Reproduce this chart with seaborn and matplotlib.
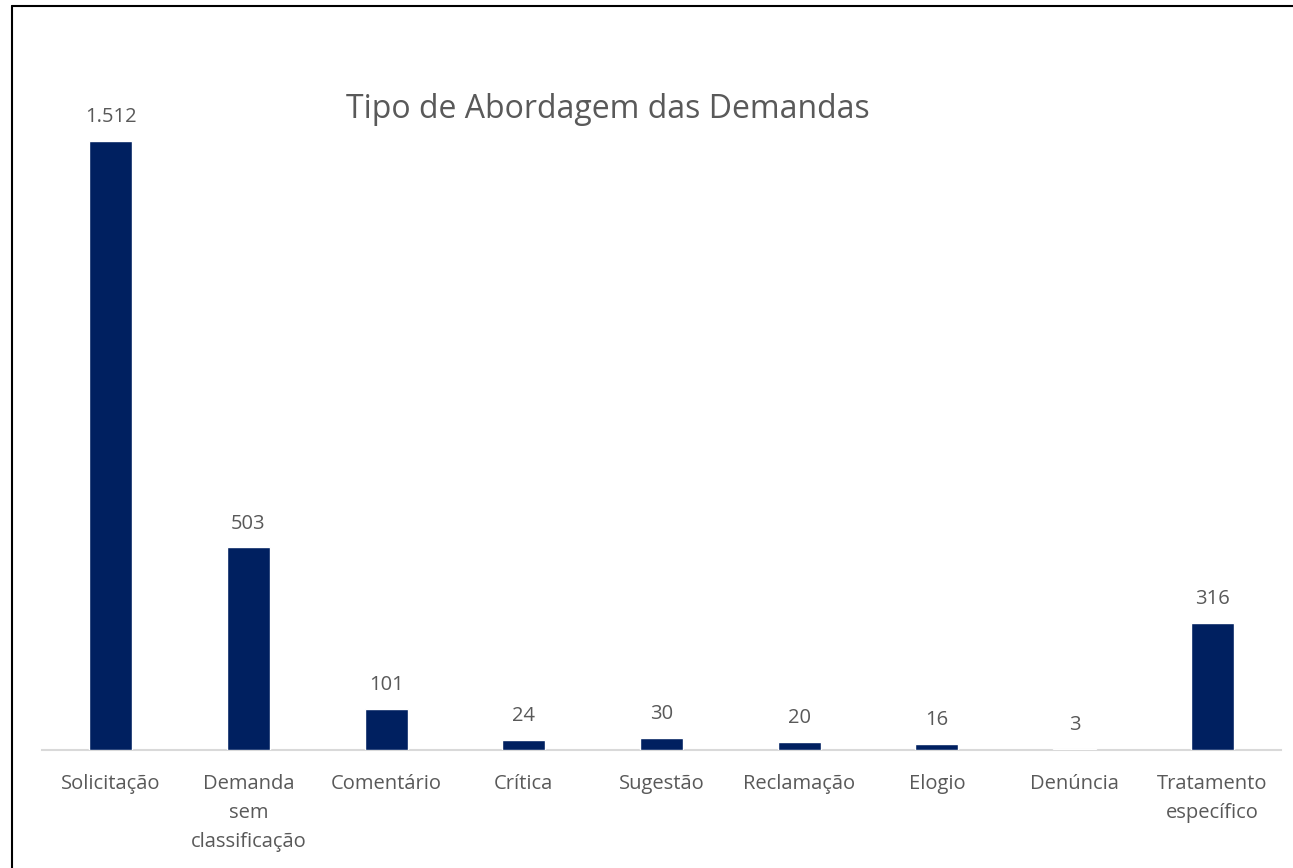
import matplotlib
matplotlib.use("Agg")
import matplotlib.pyplot as plt
import seaborn as sns
import pandas as pd
from matplotlib.lines import Line2D

# ── data ─────────────────────────────────────────────────────────────────────
categories = ["Solicitação", "Demanda\nsem\nclassificação", "Comentário", "Crítica",
              "Sugestão", "Reclamação", "Elogio", "Denúncia", "Tratamento\nespecífico"]
values = [1512, 503, 101, 24, 30, 20, 16, 3, 316]

df = pd.DataFrame({"tipo": categories, "qtd": values})

BAR_COLOR = "#002060"
TEXT_COLOR = "#595959"

sns.set_theme(style="white")
plt.rcParams["font.family"] = ["Open Sans", "DejaVu Sans"]

W, H = 1293, 868
fig = plt.figure(figsize=(W / 100, H / 100), dpi=100)
# axes placed so that baseline sits at y=750 px and spans x=42..1281 px
left, right = 42 / W, 1281 / W
bottom = (H - 750) / H
top = (H - 25) / H
ax = fig.add_axes([left, bottom, right - left, top - bottom])

sns.barplot(data=df, x="tipo", y="qtd", color=BAR_COLOR, width=0.31,
            saturation=1, ax=ax, zorder=3)

ax.set_ylim(0, 1800)
ax.set_xlim(-0.5, len(categories) - 0.5)
ax.set_xlabel("")
ax.set_ylabel("")
ax.set_yticks([])
for s in ["top", "left", "right"]:
    ax.spines[s].set_visible(False)
ax.spines["bottom"].set_color("#d9d9d9")
ax.spines["bottom"].set_linewidth(1.5)
ax.spines["bottom"].set_zorder(1)
ax.tick_params(axis="x", length=0, pad=17, labelsize=14.5, labelcolor=TEXT_COLOR)
for t in ax.get_xticklabels():
    t.set_linespacing(1.62)

labels = [f"{v:,}".replace(",", ".") for v in values]
ax.bar_label(ax.containers[0], labels=labels, padding=10, fontsize=14.5,
             color=TEXT_COLOR)

fig.text(608 / W, (H - 110) / H, "Tipo de Abordagem das Demandas",
         ha="center", va="center", fontsize=23, color=TEXT_COLOR)

# chart border (top and left edges visible)
fig.add_artist(Line2D([12 / W, 12 / W], [0, (H - 6) / H], color="black", lw=1.5,
                      transform=fig.transFigure))
fig.add_artist(Line2D([12 / W, 1], [(H - 6) / H, (H - 6) / H], color="black", lw=1.5,
                      transform=fig.transFigure))

fig.savefig("out.png", dpi=100)
plt.close()
